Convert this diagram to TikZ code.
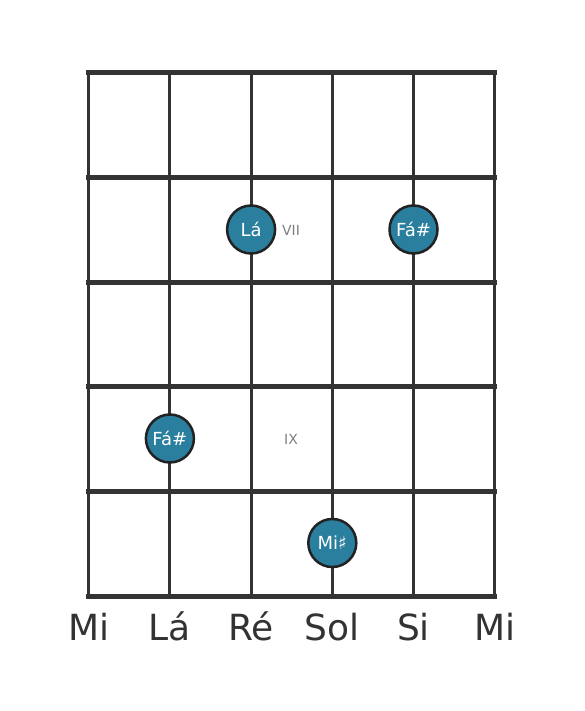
\documentclass[tikz,border=0pt]{standalone}
\usepackage{fontspec}
\setmainfont{DejaVu Sans}
\definecolor{grid}{HTML}{333333}
\definecolor{dotfill}{HTML}{2A7F9E}
\definecolor{dotedge}{HTML}{222222}
\definecolor{fretlbl}{HTML}{808080}
\tikzset{
  fret/.style={draw=grid, line width=5pt},
  strg/.style={draw=grid, line width=3pt},
  notedot/.style={circle, fill=dotfill, draw=dotedge, line width=2.5pt, minimum size=48pt, inner sep=0pt, text=white, font=\fontsize{18pt}{18pt}\selectfont},
  fretnum/.style={text=fretlbl, font=\fontsize{14pt}{14pt}\selectfont, inner sep=0pt},
  strname/.style={text=grid, font=\fontsize{36pt}{36pt}\selectfont, inner sep=0pt, anchor=base}
}
\begin{document}
\begin{tikzpicture}[x=1pt, y=-1pt]
\useasboundingbox (0,0) rectangle (584,711);
% strings
\foreach \i/\x in {0/88.7,1/169.9,2/251.1,3/332.3,4/413.5,5/494.7} {
  \coordinate (s\i t) at (\x,73);
  \coordinate (s\i b) at (\x,596);
  \draw[strg] (s\i t) -- (s\i b);
}
% frets
\foreach \j/\y in {0/73,1/177.6,2/282.2,3/386.8,4/491.4,5/596} {
  \coordinate (f\j l) at (86.2,\y);
  \coordinate (f\j r) at (497.2,\y);
  \draw[fret] (f\j l) -- (f\j r);
}
% fret numbers
\node[fretnum] (vii) at (291,230) {VII};
\node[fretnum] (ix) at (291,439) {IX};
% notes
\node[notedot] (n1) at (251.1,229.5) {Lá};
\node[notedot] (n2) at (413.5,229.5) {Fá\#};
\node[notedot] (n3) at (169.9,438.5) {Fá\#};
\node[notedot] (n4) at (332.3,543) {Mi♯};
% string names
\node[strname] (l0) at (88.7,640) {Mi};
\node[strname] (l1) at (169.9,640) {Lá};
\node[strname] (l2) at (251.1,640) {Ré};
\node[strname] (l3) at (332.3,640) {Sol};
\node[strname] (l4) at (413.5,640) {Si};
\node[strname] (l5) at (494.7,640) {Mi};
\end{tikzpicture}
\end{document}
